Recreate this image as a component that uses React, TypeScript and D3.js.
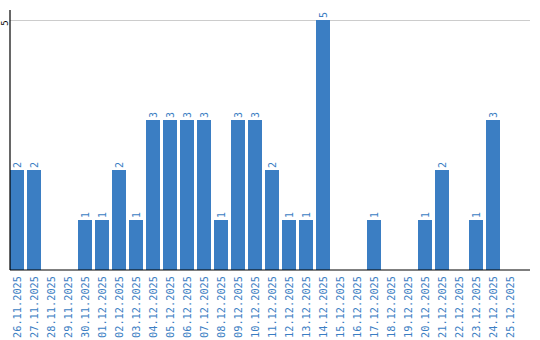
import React from "react";
import * as d3 from "d3";

const categories = [
  "26.11.2025", "27.11.2025", "28.11.2025", "29.11.2025", "30.11.2025",
  "01.12.2025", "02.12.2025", "03.12.2025", "04.12.2025", "05.12.2025",
  "06.12.2025", "07.12.2025", "08.12.2025", "09.12.2025", "10.12.2025",
  "11.12.2025", "12.12.2025", "13.12.2025", "14.12.2025", "15.12.2025",
  "16.12.2025", "17.12.2025", "18.12.2025", "19.12.2025", "20.12.2025",
  "21.12.2025", "22.12.2025", "23.12.2025", "24.12.2025", "25.12.2025",
];
const values = [2, 2, 0, 0, 1, 1, 2, 1, 3, 3, 3, 3, 1, 3, 3, 2, 1, 1, 5, 0, 0, 1, 0, 0, 1, 2, 0, 1, 3, 0];
const yTicks = [5];

const W = 540;
const H = 340;
const left = 10;
const right = 530;
const top = 10;
const bottom = 270;
const barColor = "#3b7ec3";
const font = "'DejaVu Sans Mono', monospace";

export default function App() {
  const step = 17;
  const x = d3
    .scaleBand<string>()
    .domain(categories)
    .range([left, left + categories.length * step - 3])
    .paddingInner(3 / 17)
    .paddingOuter(0);
  const y = d3.scaleLinear().domain([0, 5]).range([bottom, 20]);

  return (
    <svg width={W} height={H} style={{ position: "absolute", left: 0, top: 0 }}>
      {yTicks.map((t) => (
        <g key={t}>
          <line x1={left} x2={right} y1={y(t)} y2={y(t)} stroke="#cccccc" strokeWidth={1} shapeRendering="crispEdges" />
          <text
            transform={`translate(8,${y(t) + 3}) rotate(-90)`}
            textAnchor="middle"
            fontFamily={font}
            fontSize={9}
            fill="#000"
          >
            {t}
          </text>
        </g>
      ))}
      {categories.map((c, i) => {
        const v = values[i];
        const bx = x(c)!;
        const bw = x.bandwidth();
        const cx = bx + bw / 2;
        return (
          <g key={c}>
            {v > 0 && (
              <rect x={bx} y={y(v)} width={bw} height={bottom - y(v)} fill={barColor} shapeRendering="crispEdges" />
            )}
            {v > 0 && (
              <text
                transform={`translate(${cx + 3.5},${y(v) - 2}) rotate(-90)`}
                textAnchor="start"
                fontFamily={font}
                fontSize={10}
                fill={barColor}
              >
                {v}
              </text>
            )}
            <text
              transform={`translate(${cx + 3.5},${bottom + 6}) rotate(-90)`}
              textAnchor="end"
              fontFamily={font}
              fontSize={10.3}
              fill={barColor}
            >
              {c}
            </text>
          </g>
        );
      })}
      <line x1={left} x2={left} y1={top} y2={bottom} stroke="#000" strokeWidth={1.2} />
      <line x1={left} x2={right} y1={bottom} y2={bottom} stroke="#000" strokeWidth={1.2} />
    </svg>
  );
}
